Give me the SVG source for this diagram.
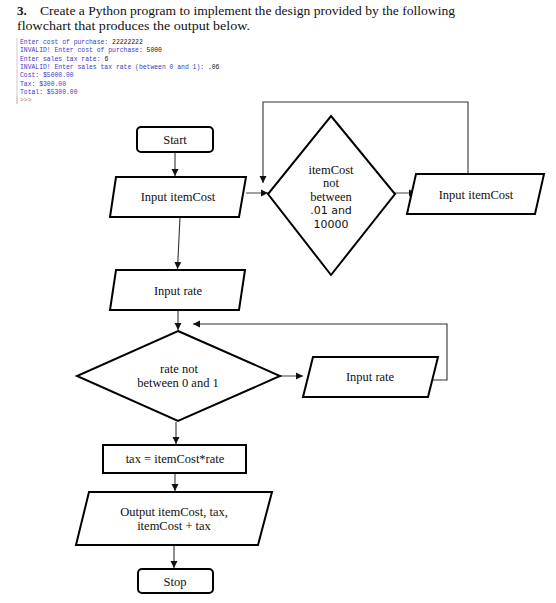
<svg xmlns="http://www.w3.org/2000/svg" width="556" height="603" viewBox="0 0 556 603">
<style>
.hdr{font-family:"Liberation Serif","DejaVu Serif",serif;font-size:13px;fill:#111}
.con{font-family:"Liberation Mono","DejaVu Sans Mono",monospace;font-size:6.4px}
.b{fill:#3a3ac8}
.k{fill:#111}
.shape{fill:#fff;stroke:#000;stroke-width:2}
.lbl{font-family:"Liberation Serif","DejaVu Serif",serif;font-size:12.5px;fill:#111;text-anchor:middle}
.lbls{font-family:"DejaVu Sans","Liberation Sans",sans-serif;font-size:11px;fill:#111;text-anchor:middle}
.edge{fill:none;stroke:#333;stroke-width:1.1}
.edgeg{fill:none;stroke:#777;stroke-width:1.4}
</style>
<defs>
<marker id="ah" markerUnits="userSpaceOnUse" markerWidth="8" markerHeight="8" viewBox="0 0 8 8" refX="7" refY="4" orient="auto">
<path d="M0,0.5 L7,4 L0,7.5 Z" fill="#111"/>
</marker>
</defs>
<rect width="556" height="603" fill="#fff"/>

<g id="header">
<text class="hdr" x="17" y="15" font-weight="bold">3.</text>
<text class="hdr" x="40" y="15" textLength="415" lengthAdjust="spacingAndGlyphs">Create a Python program to implement the design provided by the following</text>
<text class="hdr" x="17" y="30" textLength="233" lengthAdjust="spacingAndGlyphs">flowchart that produces the output below.</text>
</g>

<g id="console">
<line x1="17" y1="38" x2="17" y2="96" stroke="#ccc" stroke-width="1"/>
<line x1="17" y1="96" x2="17" y2="104" stroke="#d8a0a0" stroke-width="1"/>
<text class="con b" x="20" y="44">Enter cost of purchase: <tspan class="k">22222222</tspan></text>
<text class="con b" x="20" y="52.3">INVALID! Enter cost of purchase: <tspan class="k">5000</tspan></text>
<text class="con b" x="20" y="60.6">Enter sales tax rate: <tspan class="k">6</tspan></text>
<text class="con b" x="20" y="68.9">INVALID! Enter sales tax rate (between 0 and 1): <tspan class="k">.06</tspan></text>
<text class="con b" x="20" y="77.2">Cost: $5000.00</text>
<text class="con b" x="20" y="85.5">Tax: $300.00</text>
<text class="con b" x="20" y="93.8">Total: $5300.00</text>
<text class="con" x="20" y="102" fill="#c07070">&gt;&gt;&gt;</text>
</g>

<g id="connectors">
<line class="edge" x1="175" y1="152" x2="175" y2="176" marker-end="url(#ah)"/>
<line class="edgeg" x1="246" y1="193" x2="268" y2="193" marker-end="url(#ah)"/>
<line class="edgeg" x1="395" y1="193" x2="416" y2="193" marker-end="url(#ah)"/>
<polyline class="edge" points="468,174 468,102 263,102 263,183" marker-end="url(#ah)"/>
<line class="edge" x1="180" y1="217" x2="177.5" y2="269" marker-end="url(#ah)"/>
<line class="edge" x1="178" y1="310" x2="178" y2="330" marker-end="url(#ah)"/>
<line class="edgeg" x1="280" y1="376" x2="303" y2="376" marker-end="url(#ah)"/>
<polyline class="edge" points="433,380 447,380 447,324 193,324" marker-end="url(#ah)"/>
<line class="edge" x1="176" y1="422" x2="176" y2="444" marker-end="url(#ah)"/>
<line class="edge" x1="175" y1="473" x2="175" y2="491" marker-end="url(#ah)"/>
<line class="edge" x1="174" y1="545" x2="174" y2="568" marker-end="url(#ah)"/>
</g>

<g id="start">
<rect class="shape" x="137" y="127" width="76" height="25" rx="4"/>
<text class="lbl" x="175" y="144">Start</text>
</g>

<g id="input-itemcost">
<polygon class="shape" points="116,177 246,177 239,217 110,217"/>
<text class="lbl" x="178" y="201">Input itemCost</text>
</g>

<g id="decision-itemcost">
<polygon class="shape" points="331,116 395,194 331,275 268,194"/>
<text class="lbl" x="331" y="174">itemCost</text>
<text class="lbl" x="331" y="187">not</text>
<text class="lbl" x="331" y="200.5">between</text>
<text class="lbls" x="331" y="214">.01 and</text>
<text class="lbls" x="331" y="228">10000</text>
</g>

<g id="input-itemcost-retry">
<polygon class="shape" points="416,174 544,174 535,214 407,214"/>
<text class="lbl" x="476" y="199">Input itemCost</text>
</g>

<g id="input-rate">
<polygon class="shape" points="116,270 245,270 239,310 110,310"/>
<text class="lbl" x="178" y="295">Input rate</text>
</g>

<g id="decision-rate">
<polygon class="shape" points="178,331 280,376 178,421 77,376"/>
<text class="lbl" x="179" y="373">rate not</text>
<text class="lbl" x="178" y="387">between 0 and 1</text>
</g>

<g id="input-rate-retry">
<polygon class="shape" points="313,357 438,357 428,397 303,397"/>
<text class="lbl" x="370" y="381">Input rate</text>
</g>

<g id="compute-tax">
<rect class="shape" x="103" y="445" width="143" height="28"/>
<text class="lbl" x="175" y="463">tax = itemCost*rate</text>
</g>

<g id="output">
<polygon class="shape" points="89,492 272,492 258,545 76,545"/>
<text class="lbl" x="174" y="516">Output itemCost, tax,</text>
<text class="lbl" x="174" y="530">itemCost + tax</text>
</g>

<g id="stop">
<rect class="shape" x="138" y="569" width="75" height="24" rx="4"/>
<text class="lbl" x="175" y="586">Stop</text>
</g>
</svg>
